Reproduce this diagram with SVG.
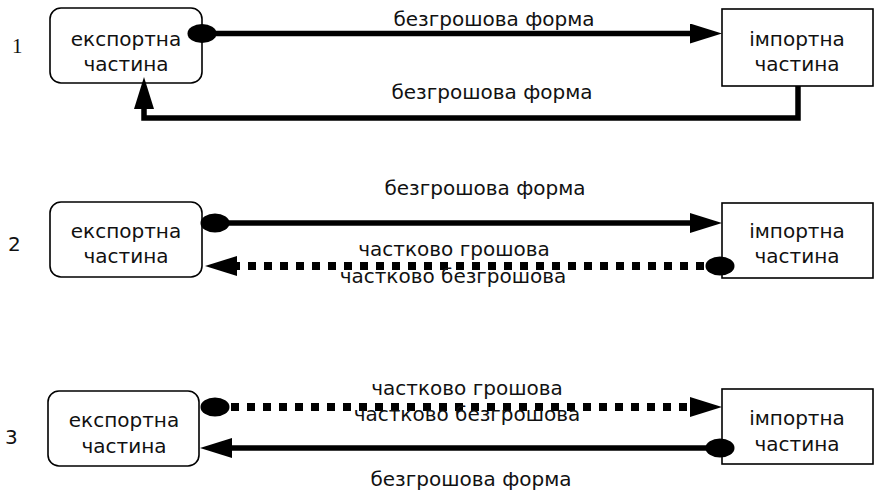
<svg xmlns="http://www.w3.org/2000/svg" width="875" height="492" viewBox="0 0 875 492">
<defs>
<marker id="arr" viewBox="0 0 32 20" refX="0" refY="10" markerWidth="32" markerHeight="20" markerUnits="userSpaceOnUse" orient="auto">
<path d="M0,0 L32,10 L0,20 Z" fill="#000"/>
</marker>
<marker id="oval" viewBox="0 0 30 20" refX="15" refY="10" markerWidth="30" markerHeight="20" markerUnits="userSpaceOnUse" orient="auto">
<ellipse cx="15" cy="10" rx="14.5" ry="9.5" fill="#000"/>
</marker>
<style>
.box{fill:#fff;stroke:#000;stroke-width:1.6}
.t{font-family:"DejaVu Sans",sans-serif;font-size:20px;fill:#111;text-anchor:middle}
.num{font-family:"DejaVu Sans",sans-serif;font-size:20px;fill:#111}
.solid{fill:none;stroke:#000;stroke-width:5.5;marker-end:url(#arr)}
.dot{fill:none;stroke:#000;stroke-width:8;stroke-dasharray:8 8;marker-end:url(#arr)}
.so{marker-start:url(#oval)}
</style>
</defs>
<g id="labels">
<text x="12" y="53" style="font-family:'Liberation Serif',serif;font-size:21px;fill:#111">1</text>
<text class="num" x="8" y="251">2</text>
<text class="num" x="5" y="444">3</text>
</g>
<g id="exp1"><rect class="box" x="50" y="8" width="152" height="75" rx="11"/><text class="t"><tspan x="126" y="46">експортна</tspan><tspan x="126" y="71">частина</tspan></text></g>
<g id="imp1"><rect class="box" x="722" y="9" width="151" height="77"/><text class="t"><tspan x="797" y="46">імпортна</tspan><tspan x="797" y="71">частина</tspan></text></g>
<g id="exp2"><rect class="box" x="50" y="202" width="152" height="75" rx="11"/><text class="t"><tspan x="126" y="238">експортна</tspan><tspan x="126" y="263">частина</tspan></text></g>
<g id="imp2"><rect class="box" x="722" y="203" width="151" height="75"/><text class="t"><tspan x="797" y="238">імпортна</tspan><tspan x="797" y="263">частина</tspan></text></g>
<g id="exp3"><rect class="box" x="48" y="391" width="151" height="75" rx="11"/><text class="t"><tspan x="124" y="427">експортна</tspan><tspan x="124" y="453">частина</tspan></text></g>
<g id="imp3"><rect class="box" x="722" y="389" width="151" height="75"/><text class="t"><tspan x="797" y="425">імпортна</tspan><tspan x="797" y="451">частина</tspan></text></g>
<g id="connectors">
<path class="solid so" d="M202,33.5 H690"/>
<path class="solid" d="M798,86 V118 H144 V109"/>
<path class="solid so" d="M215,223 H690"/>
<path class="dot so" d="M720,266 H237"/>
<path class="dot so" d="M215,407 H690"/>
<path class="solid so" d="M720,448 H232"/>
</g>
<g id="edge-labels">
<text class="t" x="494" y="26">безгрошова форма</text>
<text class="t" x="492" y="99">безгрошова форма</text>
<text class="t" x="485" y="195">безгрошова форма</text>
<text class="t"><tspan x="454" y="256">частково грошова</tspan><tspan x="453" y="283">частково безгрошова</tspan></text>
<text class="t"><tspan x="467" y="395">частково грошова</tspan><tspan x="467" y="421">частково безгрошова</tspan></text>
<text class="t" x="471" y="486">безгрошова форма</text>
</g>
</svg>
